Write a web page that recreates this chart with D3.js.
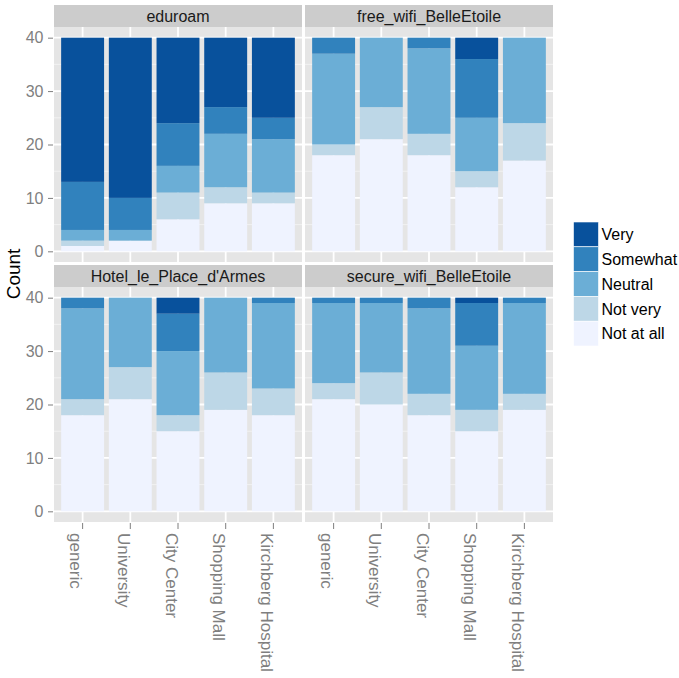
<!DOCTYPE html>
<html>
<head>
<meta charset="utf-8">
<script src="https://cdn.jsdelivr.net/npm/d3@7"></script>
<style>
  body { margin: 0; background: #fff; }
  text { font-family: "Liberation Sans", Arial, sans-serif; }
</style>
</head>
<body>
<div id="chart-area"></div>
<script>
const locations = ['generic', 'University', 'City Center', 'Shopping Mall', 'Kirchberg Hospital'];
const networks = ['eduroam', 'free_wifi_BelleEtoile', "Hotel_le_Place_d'Armes", 'secure_wifi_BelleEtoile'];
const levels = ['Not at all', 'Not very', 'Neutral', 'Somewhat', 'Very'];
const yTicks = [0, 10, 20, 30, 40];

// counts per location, in the order of levels (Not at all .. Very)
const eduroam = [[1, 1, 2, 9, 27], [2, 0, 2, 6, 30], [6, 5, 5, 8, 16], [9, 3, 10, 5, 13], [9, 2, 10, 4, 15]];
const freeWifi = [[18, 2, 17, 3, 0], [21, 6, 13, 0, 0], [18, 4, 16, 2, 0], [12, 3, 10, 11, 4], [17, 7, 16, 0, 0]];
const hotel = [[18, 3, 17, 2, 0], [21, 6, 13, 0, 0], [15, 3, 12, 7, 3], [19, 7, 14, 0, 0], [18, 5, 16, 1, 0]];
const secureWifi = [[21, 3, 15, 1, 0], [20, 6, 13, 1, 0], [18, 4, 16, 2, 0], [15, 4, 12, 8, 1], [19, 3, 17, 1, 0]];

const colors = ['#EFF3FF', '#BDD7E7', '#6BAED6', '#3182BD', '#08519C'];

const widthSvg = 679;
const heightSvg = 678;
const panelW = 248;
const panelH = 235;
const stripH = 22;
const colX = [54, 305];
const rowY = [5, 265];

const panels = [eduroam, freeWifi, hotel, secureWifi];

const svg = d3.select('#chart-area').append('svg')
  .attr('width', widthSvg)
  .attr('height', heightSvg);

const scaleX = d3.scaleBand()
  .domain(locations)
  .range([0, panelW])
  .paddingInner(0.1)
  .paddingOuter(0.15);

const scaleY = d3.scaleLinear()
  .domain([-2, 42])
  .range([panelH, 0]);

const color = d3.scaleOrdinal().domain(levels).range(colors);

const stack = d3.stack().keys(levels);

panels.forEach((counts, i) => {
  const col = i % 2;
  const row = Math.floor(i / 2);
  const g = svg.append('g')
    .attr('transform', `translate(${colX[col]}, ${rowY[row]})`);

  // strip
  g.append('rect')
    .attr('width', panelW)
    .attr('height', stripH)
    .attr('fill', '#cccccc');
  g.append('text')
    .text(networks[i])
    .attr('x', panelW / 2)
    .attr('y', stripH / 2)
    .attr('dy', '0.36em')
    .attr('text-anchor', 'middle')
    .attr('font-size', '16px')
    .attr('fill', '#1a1a1a');

  const chart = g.append('g')
    .attr('transform', `translate(0, ${stripH})`);

  chart.append('rect')
    .attr('width', panelW)
    .attr('height', panelH)
    .attr('fill', '#e5e5e5');

  // minor grid
  chart.selectAll('.minor')
    .data([5, 15, 25, 35])
    .enter().append('line')
      .attr('x1', 0).attr('x2', panelW)
      .attr('y1', d => scaleY(d)).attr('y2', d => scaleY(d))
      .attr('stroke', '#f2f2f2')
      .attr('stroke-width', 1);

  chart.selectAll('.majorY')
    .data(yTicks)
    .enter().append('line')
      .attr('x1', 0).attr('x2', panelW)
      .attr('y1', d => scaleY(d)).attr('y2', d => scaleY(d))
      .attr('stroke', '#ffffff')
      .attr('stroke-width', 1.8);

  chart.selectAll('.majorX')
    .data(locations)
    .enter().append('line')
      .attr('x1', d => scaleX(d) + scaleX.bandwidth() / 2)
      .attr('x2', d => scaleX(d) + scaleX.bandwidth() / 2)
      .attr('y1', 0).attr('y2', panelH)
      .attr('stroke', '#ffffff')
      .attr('stroke-width', 1.8);

  const rows = locations.map((loc, j) => {
    const o = { location: loc };
    levels.forEach((lv, k) => { o[lv] = counts[j][k]; });
    return o;
  });

  const series = stack(rows);

  chart.selectAll('.layer')
    .data(series)
    .enter().append('g')
      .attr('fill', d => color(d.key))
    .selectAll('rect')
    .data(d => d)
    .enter().append('rect')
      .attr('x', d => scaleX(d.data.location))
      .attr('y', d => scaleY(d[1]))
      .attr('width', scaleX.bandwidth())
      .attr('height', d => scaleY(d[0]) - scaleY(d[1]));

  // y axis on left column
  if (col === 0) {
    const axisY = d3.axisLeft(scaleY).tickValues(yTicks).tickSize(5).tickPadding(5.5);
    const ay = chart.append('g').call(axisY);
    ay.select('.domain').remove();
    ay.selectAll('line').attr('stroke', '#7f7f7f').attr('transform', 'translate(-1,0)');
    ay.selectAll('text')
      .attr('font-size', '16px')
      .attr('fill', '#7f7f7f')
      .attr('font-family', '"Liberation Sans", Arial, sans-serif');
  }

  // x axis on bottom row
  if (row === 1) {
    const axisX = d3.axisBottom(scaleX).tickSize(6).tickPadding(3);
    const ax = chart.append('g')
      .attr('transform', `translate(0, ${panelH + 1})`)
      .call(axisX);
    ax.select('.domain').remove();
    ax.selectAll('line').attr('stroke', '#7f7f7f');
    ax.selectAll('text')
      .attr('font-size', '17px')
      .attr('fill', '#7f7f7f')
      .attr('font-family', '"Liberation Sans", Arial, sans-serif')
      .attr('text-anchor', 'start')
      .attr('transform', 'rotate(90)')
      .attr('x', 10)
      .attr('y', 0)
      .attr('dy', '0.72em');
  }
});

// y label
svg.append('text')
  .text('Count')
  .attr('transform', 'translate(20, 274)rotate(-90)')
  .attr('text-anchor', 'middle')
  .attr('font-size', '19px')
  .attr('fill', '#000');

// legend
const keySize = 24.8;
const legend = svg.append('g')
  .attr('transform', 'translate(573.5, 222)');
const legendLevels = levels.slice().reverse();
legend.selectAll('rect')
  .data(legendLevels)
  .enter().append('rect')
    .attr('x', 0)
    .attr('y', (d, i) => i * keySize)
    .attr('width', 25)
    .attr('height', keySize)
    .attr('fill', d => color(d))
    .attr('stroke', '#ffffff')
    .attr('stroke-width', 0.6);
legend.selectAll('text')
  .data(legendLevels)
  .enter().append('text')
    .text(d => d)
    .attr('x', 28)
    .attr('y', (d, i) => i * keySize + keySize / 2)
    .attr('dy', '0.36em')
    .attr('font-size', '16px')
    .attr('fill', '#000');
</script>
</body>
</html>
